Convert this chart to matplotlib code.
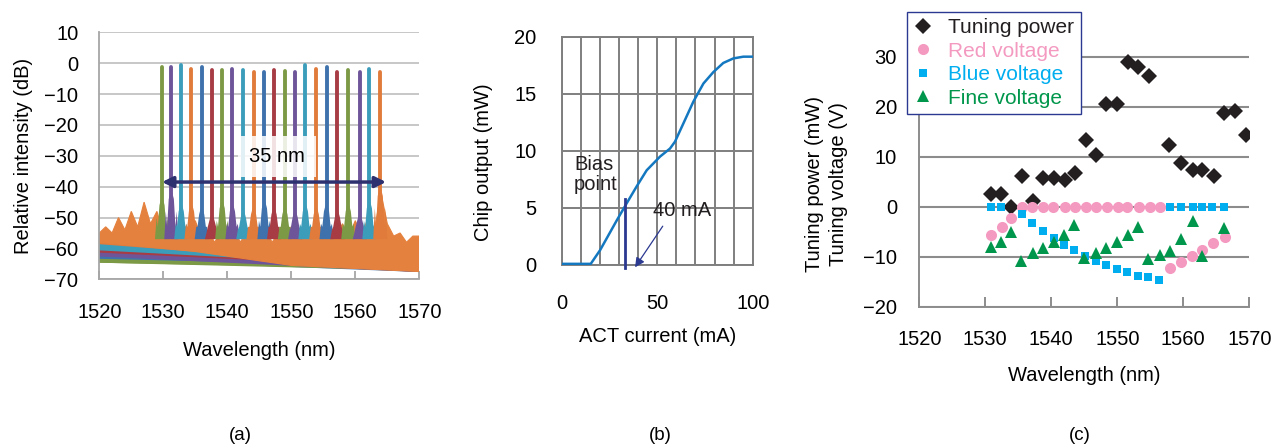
import numpy as np
import matplotlib
matplotlib.use("Agg")
import matplotlib.pyplot as plt

plt.rcParams['font.family'] = ['Liberation Sans', 'DejaVu Sans']
plt.rcParams['font.size'] = 14.5

# ---------------- (a) spectra ----------------
peak_wl = [1529.8, 1531.25, 1532.8, 1534.4, 1536.0, 1537.6, 1539.2, 1540.8, 1542.5, 1544.1, 1545.8,
           1547.3, 1549.0, 1550.6, 1552.2, 1553.9, 1555.5, 1557.2, 1558.9, 1560.7, 1562.2, 1563.9]
peak_db = [-1.3, -1.1, -0.6, -2.0, -1.3, -2.2, -2.2, -1.8, -2.2, -3.0, -2.7,
           -2.3, -2.4, -2.9, -0.5, -1.8, -1.1, -2.8, -2.3, -3.0, -1.8, -3.0]
side_db = [-44, -42, -46, -46, -47, -49, -45, -46, -48, -47, -45,
           -47, -47, -48, -46, -47, -46, -48, -46, -49, -45, -41]
floor_l = [-62, -60, -57.5, -57, -61, -59, -63, -61, -58, -57, -62,
           -60, -64, -62, -59, -57, -63, -61, -64, -62, -60, -58]
floor_r = [-66, -66.5, -65.5, -66, -67, -66, -66.5, -67, -65.5, -66, -66.5,
           -67, -66, -66.5, -65.5, -66, -67, -66, -66.5, -67, -65.5, -66]
spec_colors = ['#7c9a45', '#6e559a', '#3c9dbb', '#e07b3c', '#3f72ad', '#a83c44']

band_wl = list(range(1520, 1571))
band_top = [-55, -53, -55, -50, -54, -48, -53, -45, -52, -48, -55, -53, -57, -52, -56, -51, -57,
            -54, -58, -55, -57, -53, -58, -55, -52, -57, -54, -58, -55, -57, -53, -57, -54, -57,
            -51, -57, -53, -56, -52, -56, -51, -56, -50, -54, -42, -52, -56, -55, -58, -56, -56]
low_wl = [1520, 1525, 1530, 1535, 1540, 1545, 1550, 1555, 1560, 1565, 1570]
low_db = [-58, -59, -60, -61, -62.5, -64, -65.5, -66, -66.5, -67, -67.5]

# ---------------- (b) LI curve ----------------
act_ma = [0, 15.2, 20.1, 28.8, 34.0, 39.3, 44.5, 51.5, 56.7, 59.3, 63.7, 68.9, 74.2, 79.4, 84.6, 89.9, 95.1, 100]
chip_mw = [0.1, 0.1, 1.3, 3.9, 5.4, 6.9, 8.3, 9.5, 10.2, 10.8, 12.4, 14.3, 15.9, 16.9, 17.7, 18.1, 18.25, 18.25]

# ---------------- (c) tuning ----------------
tp_wl = [1530.8, 1532.4, 1533.9, 1535.6, 1537.2, 1538.8, 1540.4, 1542.0, 1543.6, 1545.2, 1546.7, 1548.3,
         1550.0, 1551.6, 1553.2, 1554.8, 1557.9, 1559.6, 1561.4, 1562.9, 1564.6, 1566.2, 1567.9, 1569.5]
tp_val = [2.5, 2.5, 0.0, 6.1, 1.1, 5.8, 5.7, 5.3, 6.8, 13.3, 10.3, 20.5,
          20.5, 29.0, 28.0, 26.1, 12.3, 8.7, 7.3, 7.3, 6.2, 18.8, 19.2, 14.4]
red_wl = [1530.9, 1532.5, 1533.9, 1535.6, 1537.1, 1538.8, 1540.3, 1542.1, 1543.6, 1545.3, 1546.8, 1548.4,
          1550.1, 1551.5, 1553.3, 1555.0, 1556.5, 1558.0, 1559.7, 1561.3, 1562.9, 1564.5, 1566.3]
red_val = [-5.7, -4.0, -2.3, 0, 0, 0, 0, 0, 0, 0, 0, 0,
           0, 0, 0, 0, 0, -12.3, -11.1, -9.9, -8.6, -7.3, -6.1]
blue_wl = [1530.8, 1532.4, 1535.5, 1537.1, 1538.7, 1540.4, 1541.9, 1543.5, 1545.1, 1546.7, 1548.3,
           1549.9, 1551.5, 1553.2, 1554.7, 1556.3, 1558.0, 1559.7, 1561.4, 1562.8, 1564.4, 1566.2]
blue_val = [0, 0, -1.5, -3.3, -4.8, -6.3, -7.7, -8.7, -9.9, -10.9, -11.7,
            -12.5, -13.1, -13.9, -14.1, -14.7, 0, 0, 0, 0, 0, 0]
fine_wl = [1530.8, 1532.4, 1533.9, 1535.4, 1537.2, 1538.8, 1540.4, 1541.9, 1543.5, 1545.0, 1546.7,
           1548.3, 1549.9, 1551.6, 1553.2, 1554.7, 1556.4, 1558.0, 1559.7, 1561.4, 1562.9, 1566.2]
fine_val = [-8.0, -7.0, -5.1, -10.9, -9.3, -8.3, -7.1, -5.6, -3.7, -10.2, -9.3,
            -8.3, -7.1, -5.7, -4.1, -10.4, -9.7, -8.9, -6.5, -2.9, -9.9, -4.2]

W, H = 1284, 446
fig = plt.figure(figsize=(W / 100, H / 100), dpi=100)


def px_axes(x0, y0, x1, y1):
    return fig.add_axes([x0 / W, 1 - y1 / H, (x1 - x0) / W, (y1 - y0) / H])


# ===== panel (a) =====
ax1 = px_axes(99.3, 32.3, 419.3, 279.3)
ax1.set_xlim(1520, 1570)
ax1.set_ylim(-70, 10)
ax1.set_yticks(range(-70, 11, 10))
ax1.set_yticklabels(['\u221270', '\u221260', '\u221250', '\u221240', '\u221230', '\u221220', '\u221210', '0', '10'])
ax1.set_xticks(range(1520, 1571, 10))
ax1.grid(axis='y', color='#bdbdbd', lw=1.2, zorder=0)
ax1.set_axisbelow(True)
for s in ['top', 'right']:
    ax1.spines[s].set_visible(False)
for s in ['left', 'bottom']:
    ax1.spines[s].set_color('#a6a6a6')
    ax1.spines[s].set_linewidth(1.3)
ax1.tick_params(axis='y', length=0, pad=15)
ax1.tick_params(axis='x', direction='in', length=6, width=1.3, color='#a6a6a6', pad=17)

for i in range(len(peak_wl)):
    ax1.plot([1520, 1570], [floor_l[i], floor_r[i]], color=spec_colors[i % 6], lw=2.8, zorder=1)
ax1.fill(band_wl + low_wl[::-1], band_top + low_db[::-1], color='#e5813e', lw=0.8,
         ec='#e5813e', zorder=2)

# pedestal outline around each lasing line (offsets in nm, levels relative to side mode)
ped_dx = [-1.1, -0.85, -0.65, -0.4, -0.15, 0.15, 0.4, 0.65, 0.85, 1.1]
for i in range(len(peak_wl)):
    c = spec_colors[i % 6]
    w, s = peak_wl[i], side_db[i]
    ped_y = [-57, s - 6, -53, s - 2, s, s, s - 2, -53, s - 6, -57]
    ax1.fill([w + d for d in ped_dx], ped_y, color=c, lw=0, zorder=3)
    ax1.plot([w, w], [-54, peak_db[i]], color=c, lw=2.8, solid_capstyle='round', zorder=4)

ax1.annotate('', xy=(1564.8, -38.5), xytext=(1529.8, -38.5),
             arrowprops=dict(arrowstyle='<|-|>', color='#2e3170', lw=2.5, mutation_scale=16,
                             shrinkA=0, shrinkB=0), zorder=6)
ax1.text(1547.8, -30.2, '35 nm', ha='center', va='center', zorder=6,
         bbox=dict(boxstyle='square,pad=0.55', fc='white', ec='none', alpha=0.85))
ax1.set_xlabel('Wavelength (nm)', labelpad=14)
ax1.set_ylabel('Relative intensity (dB)', labelpad=8)

# ===== panel (b) =====
ax2 = px_axes(561.7, 36.7, 752.7, 265)
ax2.set_xlim(0, 100)
ax2.set_ylim(0, 20)
ax2.set_xticks([0, 50, 100])
ax2.set_xticks(range(0, 101, 10), minor=True)
ax2.set_yticks(range(0, 21, 5))
ax2.grid(which='both', color='#7f7f7f', lw=1.4, zorder=0)
for s in ax2.spines.values():
    s.set_color('#7f7f7f')
    s.set_linewidth(1.4)
ax2.tick_params(which='both', length=0)
ax2.tick_params(axis='y', pad=18)
ax2.tick_params(axis='x', pad=21)
ax2.plot(act_ma, chip_mw, color='#1478c0', lw=1.8, zorder=3)
ax2.plot([33, 33], [-0.3, 5.8], color='#2b3990', lw=2, clip_on=False, zorder=4)
ax2.annotate('', xy=(38.4, -0.2), xytext=(52.9, 3.4), annotation_clip=False,
             arrowprops=dict(arrowstyle='-|>', color='#2b3990', lw=0.9, mutation_scale=14,
                             shrinkA=0, shrinkB=0))
ax2.text(6.5, 7.9, 'Bias\npoint', ha='left', va='center', linespacing=1.05, color='#231f20', zorder=5)
ax2.text(62.8, 4.8, '40 mA', ha='center', va='center', color='#231f20', zorder=5)
ax2.set_xlabel('ACT current (mA)', labelpad=10)
ax2.set_ylabel('Chip output (mW)')
ax2.yaxis.set_label_coords(-0.36, 0.45)

# ===== panel (c) =====
ax3 = px_axes(919.3, 26.7, 1249.3, 306.7)
ax3.set_xlim(1520, 1570)
ax3.set_ylim(-20, 36)
ax3.set_yticks(range(-20, 31, 10))
ax3.set_yticklabels(['\u221220', '\u221210', '0', '10', '20', '30'])
ax3.set_xticks(range(1520, 1571, 10))
ax3.grid(axis='y', color='#8c8c8c', lw=1.5, zorder=0)
ax3.set_axisbelow(True)
for s in ['top', 'right']:
    ax3.spines[s].set_visible(False)
for s in ['left', 'bottom']:
    ax3.spines[s].set_color('#8c8c8c')
    ax3.spines[s].set_linewidth(1.4)
ax3.tick_params(axis='y', length=0, pad=16)
ax3.tick_params(axis='x', direction='in', length=7, width=1.4, color='#8c8c8c', pad=17)

h1, = ax3.plot(tp_wl, tp_val, 'D', color='#231f20', ms=8, mew=0, zorder=3, label='Tuning power')
h2, = ax3.plot(red_wl, red_val, 'o', color='#f49ac1', ms=8, mew=0, zorder=3, label='Red voltage')
h3, = ax3.plot(blue_wl, blue_val, 's', color='#00aeef', ms=6, mew=0, zorder=3, label='Blue voltage')
h4, = ax3.plot(fine_wl, fine_val, '^', color='#00964b', ms=8, mew=0, zorder=3, label='Fine voltage')
leg = ax3.legend(handles=[h1, h2, h3, h4], loc='upper left',
                 bbox_to_anchor=(906.7 / W, 1 - 11.7 / H), bbox_transform=fig.transFigure,
                 fancybox=False, framealpha=1, edgecolor='#2b3990', handlelength=1.0,
                 handletextpad=0.7, labelspacing=0.22, borderpad=0.3, borderaxespad=0,
                 prop={'size': 15})
leg.get_frame().set_linewidth(1.0)
leg.set_zorder(10)
for t, c in zip(leg.get_texts(), ['#231f20', '#f49ac1', '#00aeef', '#00964b']):
    t.set_color(c)
ax3.set_xlabel('Wavelength (nm)', labelpad=12)
fig.text(815 / W, 1 - 184 / H, 'Tuning power (mW)', rotation=90, ha='center', va='center')
fig.text(838 / W, 1 - 184 / H, 'Tuning voltage (V)', rotation=90, ha='center', va='center')

for lab, x in [('(a)', 240), ('(b)', 660), ('(c)', 1080)]:
    fig.text(x / W, 1 - 435 / H, lab, ha='center', va='center', fontsize=13.5)

fig.savefig('out.png', dpi=100)
